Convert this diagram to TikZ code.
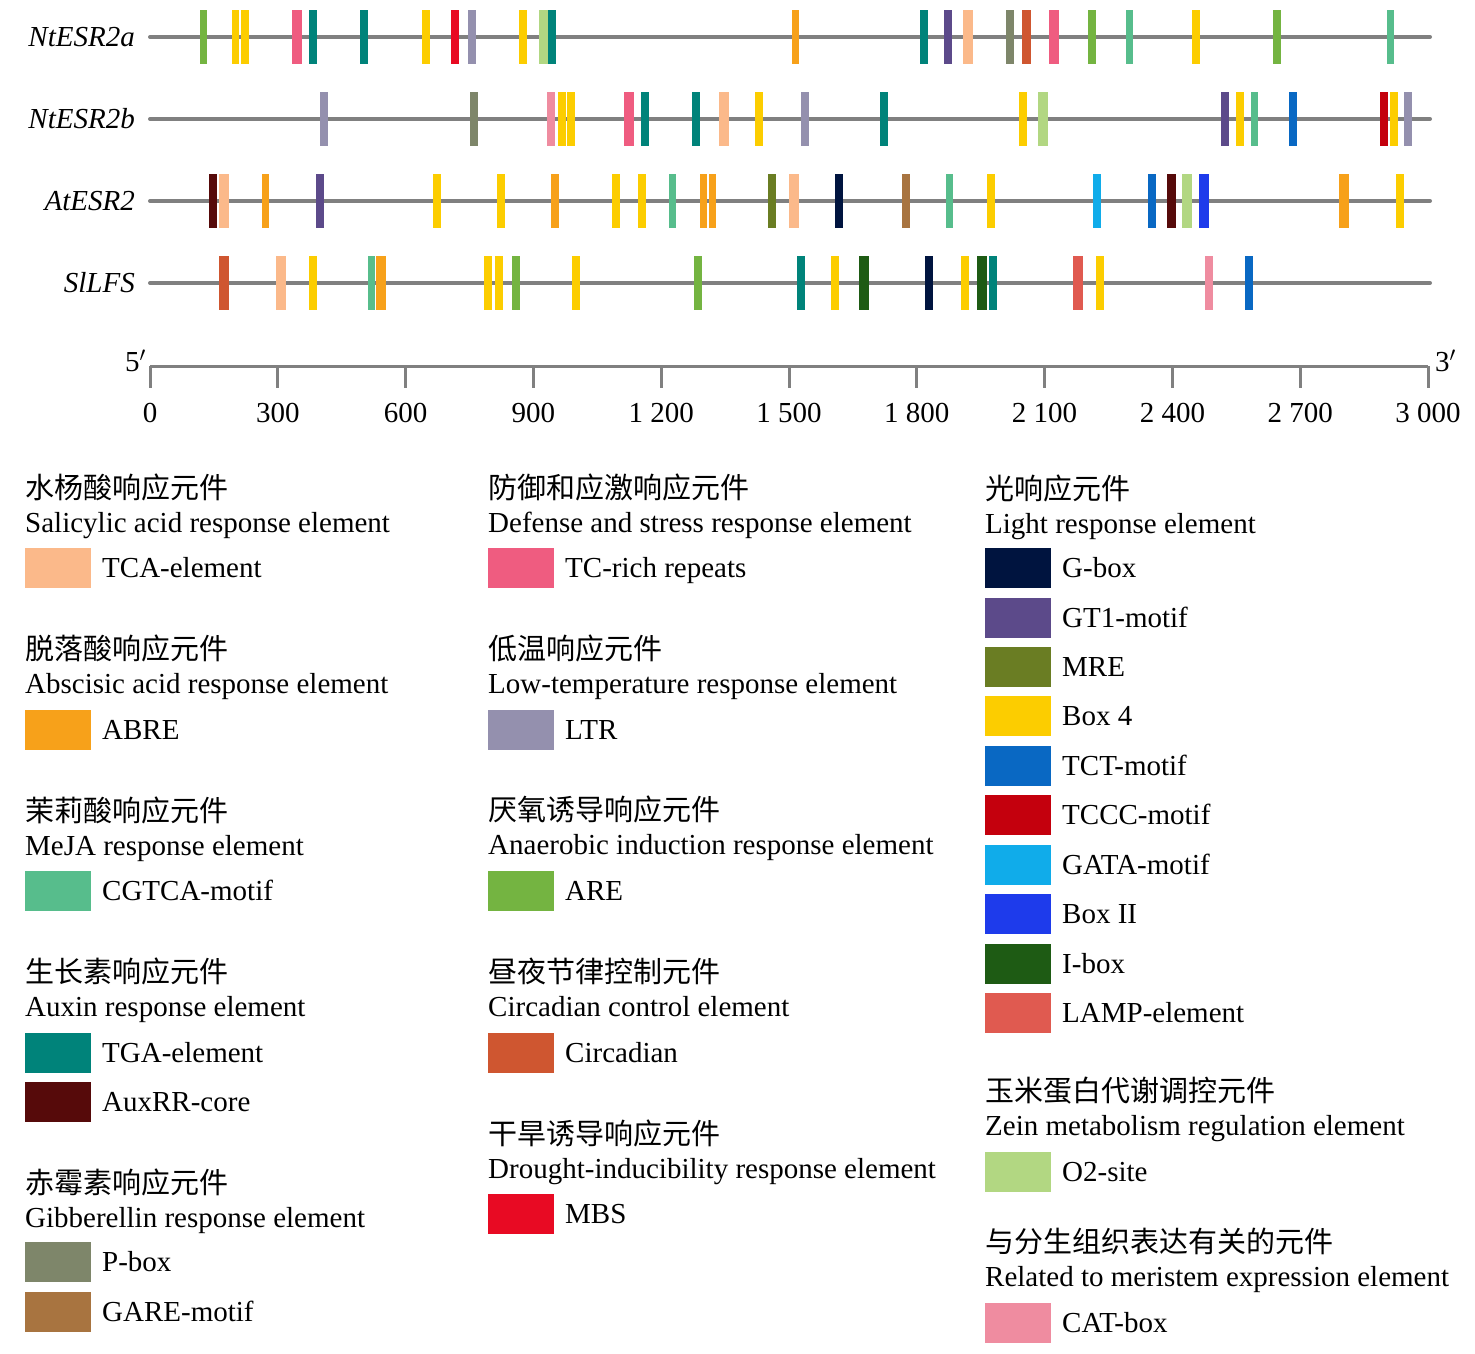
\documentclass[tikz,border=0pt]{standalone}
\usepackage{fontspec}
\setmainfont{Liberation Serif}
\newfontfamily\cjkfont{Noto Sans CJK SC}
\definecolor{cTCA}{HTML}{FBB98A}
\definecolor{cABRE}{HTML}{F7A11A}
\definecolor{cCGTCA}{HTML}{57BD8C}
\definecolor{cTGA}{HTML}{00837A}
\definecolor{cAuxRR}{HTML}{560A0A}
\definecolor{cPbox}{HTML}{7E866A}
\definecolor{cGARE}{HTML}{A87440}
\definecolor{cTCrich}{HTML}{EF5C80}
\definecolor{cLTR}{HTML}{9490AE}
\definecolor{cARE}{HTML}{74B441}
\definecolor{cCirc}{HTML}{CF5630}
\definecolor{cMBS}{HTML}{E80A23}
\definecolor{cGbox}{HTML}{00143F}
\definecolor{cGTone}{HTML}{5C4A8A}
\definecolor{cMRE}{HTML}{6A7D23}
\definecolor{cBoxIV}{HTML}{FCCD00}
\definecolor{cTCT}{HTML}{0968C3}
\definecolor{cTCCC}{HTML}{C4000D}
\definecolor{cGATA}{HTML}{10ACEA}
\definecolor{cBoxII}{HTML}{1E3BEB}
\definecolor{cIbox}{HTML}{1E5B14}
\definecolor{cLAMP}{HTML}{E05A50}
\definecolor{cOtwo}{HTML}{B2D782}
\definecolor{cCAT}{HTML}{EF8CA0}
\definecolor{trackgray}{HTML}{808080}
\newcommand\LegGroup[5]{%
  \node[anchor=base west,font=\fontsize{29}{34}\cjkfont] (#1cn) at (#2,#3+11) {#4};
  \node[anchor=base west] (#1en) at (#2,#3+45) {#5};}
\newcommand\LegItem[5]{%
  \node[swatchbox, fill=#4, anchor=west] (#1sw) at (#2,#3) {};
  \node[anchor=base west] (#1lb) at (#2+77,#3+9.5) {#5};}
\begin{document}
\begin{tikzpicture}[x=1pt,y=-1pt,
  every node/.style={inner sep=0pt, font=\fontsize{29}{34}\selectfont},
  trackline/.style={draw=trackgray, line width=4pt, line cap=round},
  axisline/.style={draw=trackgray, line width=3pt},
  swatchbox/.style={minimum width=66pt, minimum height=40pt, inner sep=0pt, draw=none}]
\useasboundingbox (0,0) rectangle (1475,1354);
% tracks
\foreach \nm/\yy/\lab in {A/37/NtESR2a, B/119/NtESR2b, C/201/AtESR2, D/283/SlLFS}{
  \draw[trackline] (150,\yy) -- (1430,\yy);
  \node[anchor=east, font=\fontsize{29}{34}\selectfont\itshape] (lab\nm) at (135,\yy) {\lab};
}
% bars track A
\foreach \c/\x/\w in {cARE/203.5/7.5, cBoxIV/235.5/7.5, cBoxIV/245/7.5, cTCrich/297/10, cTGA/313/7.5, cTGA/364/7.5, cBoxIV/426/7.5, cMBS/455/7.5, cLTR/472/7.5, cBoxIV/523/7.5, cOtwo/543/9, cTGA/552/7.5, cABRE/795/7, cTGA/924/7.5, cGTone/948/8, cTCA/968/10, cPbox/1010/8.5, cCirc/1026/9, cTCrich/1054/10, cARE/1092/7.5, cCGTCA/1129/7, cBoxIV/1196/7.5, cARE/1277/7.5, cCGTCA/1390/7}
  \fill[\c] ({\x-\w/2},10) rectangle ({\x+\w/2},64);
% bars track B
\foreach \c/\x/\w in {cLTR/324/7.5, cPbox/474/8.5, cCAT/551/7.5, cBoxIV/562/7.5, cBoxIV/571/7.5, cTCrich/629/10, cTGA/645/7.5, cTGA/696/7.5, cTCA/724/10, cBoxIV/759/7.5, cLTR/805/7.5, cTGA/884/7.5, cBoxIV/1023/7.5, cOtwo/1043/10, cGTone/1225/8.5, cBoxIV/1240/7.5, cCGTCA/1254/7, cTCT/1293/7.5, cTCCC/1384/8, cBoxIV/1394/7.5, cLTR/1408/7.5}
  \fill[\c] ({\x-\w/2},92) rectangle ({\x+\w/2},146);
% bars track C
\foreach \c/\x/\w in {cAuxRR/213/8.5, cTCA/224/10, cABRE/265/7, cGTone/320/7.5, cBoxIV/437/7.5, cBoxIV/501/7.5, cABRE/555/7.5, cBoxIV/616/7.5, cBoxIV/642/7.5, cCGTCA/672/7, cABRE/703/7, cABRE/712/7, cMRE/772/8.5, cTCA/794/10, cGbox/839/7.5, cGARE/906/8.5, cCGTCA/949/7, cBoxIV/991/7.5, cGATA/1097/8.5, cTCT/1152/7.5, cAuxRR/1171/9, cOtwo/1187/10, cBoxII/1204/10, cABRE/1344/10, cBoxIV/1400/7.5}
  \fill[\c] ({\x-\w/2},174) rectangle ({\x+\w/2},228);
% bars track D
\foreach \c/\x/\w in {cCirc/224/10, cTCA/281/10, cBoxIV/313/7.5, cCGTCA/371/7, cABRE/381/10, cBoxIV/488/7.5, cBoxIV/499/7.5, cARE/516/7.5, cBoxIV/576/7.5, cARE/698/7.5, cTGA/801/7.5, cBoxIV/835/7.5, cIbox/864/10, cGbox/929/7.5, cBoxIV/965/7.5, cIbox/982/10, cTGA/993/7.5, cLAMP/1078/10, cBoxIV/1100/7.5, cCAT/1209/7.5, cTCT/1249/7.5}
  \fill[\c] ({\x-\w/2},256) rectangle ({\x+\w/2},310);
% axis
\draw[axisline] (150,366) -- (1428,366);
\foreach \i/\t in {0/0, 1/300, 2/600, 3/900, 4/1 200, 5/1 500, 6/1 800, 7/2 100, 8/2 400, 9/2 700, 10/3 000}{
  \draw[axisline] ({150+127.8*\i},366) -- ({150+127.8*\i},388);
  \node (tick\i) at ({150+127.8*\i},413) {\t};
}
\node[anchor=base east] (five) at (146,371) {5$'$};
\node[anchor=base west] (three) at (1435,371) {3$'$};
% legend column 1
\LegGroup{sa}{25}{487}{水杨酸响应元件}{Salicylic acid response element}
\LegItem{tca}{25}{568}{cTCA}{TCA-element}
\LegGroup{aba}{25}{648}{脱落酸响应元件}{Abscisic acid response element}
\LegItem{abre}{25}{730}{cABRE}{ABRE}
\LegGroup{meja}{25}{810}{茉莉酸响应元件}{MeJA response element}
\LegItem{cgtca}{25}{891}{cCGTCA}{CGTCA-motif}
\LegGroup{aux}{25}{971}{生长素响应元件}{Auxin response element}
\LegItem{tga}{25}{1053}{cTGA}{TGA-element}
\LegItem{auxrr}{25}{1102}{cAuxRR}{AuxRR-core}
\LegGroup{gib}{25}{1182}{赤霉素响应元件}{Gibberellin response element}
\LegItem{pbox}{25}{1262}{cPbox}{P-box}
\LegItem{gare}{25}{1312}{cGARE}{GARE-motif}
% legend column 2
\LegGroup{def}{488}{487}{防御和应激响应元件}{Defense and stress response element}
\LegItem{tcrich}{488}{568}{cTCrich}{TC-rich repeats}
\LegGroup{low}{488}{648}{低温响应元件}{Low-temperature response element}
\LegItem{ltr}{488}{730}{cLTR}{LTR}
\LegGroup{ana}{488}{809}{厌氧诱导响应元件}{Anaerobic induction response element}
\LegItem{are}{488}{891}{cARE}{ARE}
\LegGroup{cir}{488}{971}{昼夜节律控制元件}{Circadian control element}
\LegItem{circ}{488}{1053}{cCirc}{Circadian}
\LegGroup{dro}{488}{1133}{干旱诱导响应元件}{Drought-inducibility response element}
\LegItem{mbs}{488}{1214}{cMBS}{MBS}
% legend column 3
\LegGroup{light}{985}{488}{光响应元件}{Light response element}
\LegItem{gbox}{985}{568}{cGbox}{G-box}
\LegItem{gtone}{985}{618}{cGTone}{GT1-motif}
\LegItem{mre}{985}{667}{cMRE}{MRE}
\LegItem{boxiv}{985}{716}{cBoxIV}{Box 4}
\LegItem{tct}{985}{766}{cTCT}{TCT-motif}
\LegItem{tccc}{985}{815}{cTCCC}{TCCC-motif}
\LegItem{gata}{985}{865}{cGATA}{GATA-motif}
\LegItem{boxii}{985}{914}{cBoxII}{Box II}
\LegItem{ibox}{985}{964}{cIbox}{I-box}
\LegItem{lamp}{985}{1013}{cLAMP}{LAMP-element}
\LegGroup{zein}{985}{1090}{玉米蛋白代谢调控元件}{Zein metabolism regulation element}
\LegItem{otwo}{985}{1172}{cOtwo}{O2-site}
\LegGroup{mer}{985}{1241}{与分生组织表达有关的元件}{Related to meristem expression element}
\LegItem{cat}{985}{1323}{cCAT}{CAT-box}
\end{tikzpicture}
\end{document}
